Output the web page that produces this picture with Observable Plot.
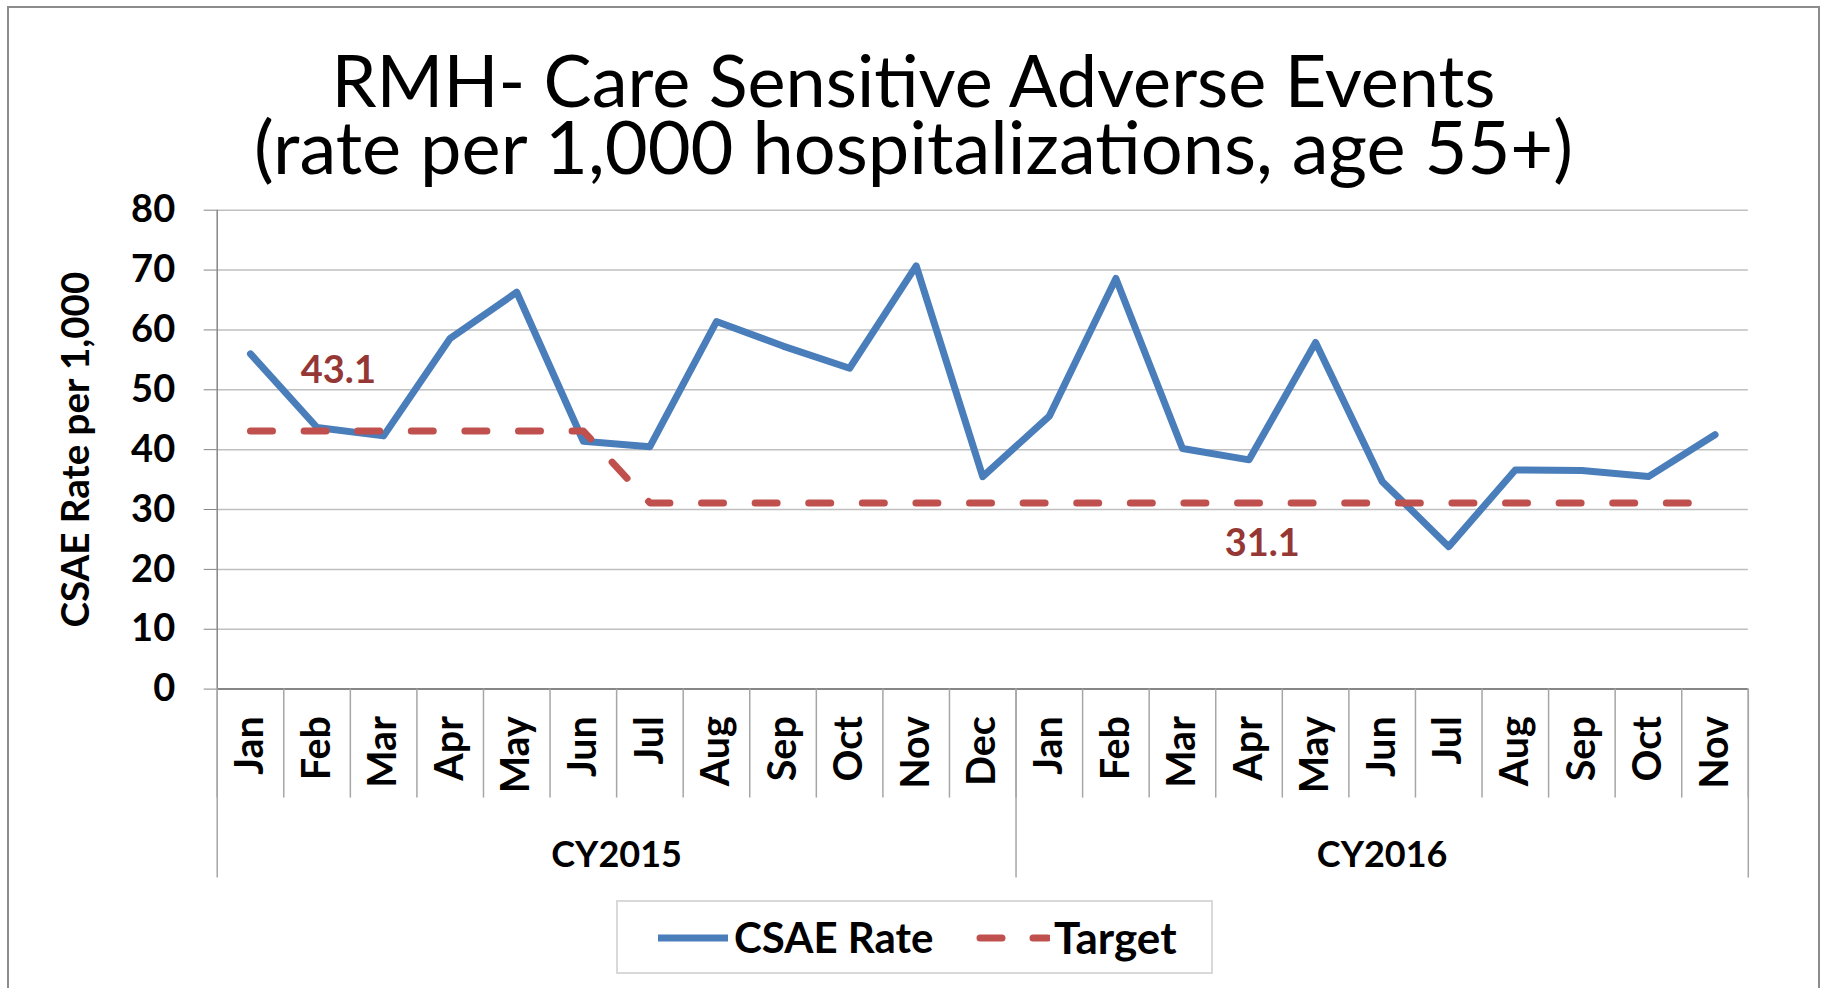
<!DOCTYPE html>
<html><head><meta charset="utf-8">
<script src="https://cdn.jsdelivr.net/npm/d3@7"></script>
<script src="https://cdn.jsdelivr.net/npm/@observablehq/plot@0.6"></script>
<style>
html,body{margin:0;padding:0;background:#fff;overflow:hidden;}
#wrap{position:relative;width:1827px;height:988px;overflow:hidden;font-family:Lato,sans-serif;background:#fff;}
#frame{position:absolute;left:7px;top:6px;width:1813px;height:1100px;border:2px solid #8c8c8c;box-sizing:border-box;}
#chart{position:absolute;left:0;top:0;}
#chart svg{font-family:Lato,sans-serif;font-weight:700;}
.tl{position:absolute;left:0;width:1827px;text-align:center;line-height:62px;height:62px;color:#000;font-weight:400;white-space:nowrap;z-index:2;}
#legend{position:absolute;left:616px;top:900px;width:597px;height:74px;border:2px solid #d9d9d9;box-sizing:border-box;}
.lg{position:absolute;top:0;height:70px;line-height:70px;font-weight:700;font-size:42px;color:#000;white-space:nowrap;}
.sw{position:absolute;top:31px;}
</style></head>
<body>
<div id="wrap">
  <div id="frame"></div>
  <div id="chart"></div>
  <div class="tl" id="t1" style="top:47.5px;font-size:72px;"></div>
  <div class="tl" id="t2" style="top:115.4px;font-size:74px;"></div>
  <div id="legend"></div>
</div>
<script>
// ---- data ----
const titleLines = ["RMH- Care Sensitive Adverse Events", "(rate per 1,000 hospitalizations, age 55+)"];
const years = ["CY2015", "CY2016"];
const months2015 = ["Jan","Feb","Mar","Apr","May","Jun","Jul","Aug","Sep","Oct","Nov","Dec"];
const months2016 = ["Jan","Feb","Mar","Apr","May","Jun","Jul","Aug","Sep","Oct","Nov"];
const csae2015 = [56.0, 43.7, 42.3, 58.6, 66.3, 41.4, 40.5, 61.4, 57.3, 53.6, 70.7, 35.5];
const csae2016 = [45.6, 68.6, 40.2, 38.3, 57.9, 34.7, 23.8, 36.6, 36.5, 35.5, 42.5];
const target2015 = [43.1, 43.1, 43.1, 43.1, 43.1, 43.1, 31.1, 31.1, 31.1, 31.1, 31.1, 31.1];
const target2016 = [31.1, 31.1, 31.1, 31.1, 31.1, 31.1, 31.1, 31.1, 31.1, 31.1, 31.1];
const targetLabelText = ["43.1", "31.1"];
const targetLabelX = [1.82, 15.7];   // position along the month axis (category units)
const targetLabelY = [53.1, 24.3];   // value units
const yTicks = [0, 10, 20, 30, 40, 50, 60, 70, 80];
const yTitle = "CSAE Rate per 1,000";
const seriesNames = ["CSAE Rate", "Target"];

document.getElementById("t1").textContent = titleLines[0];
document.getElementById("t2").textContent = titleLines[1];

// ---- table ----
const months = [...months2015, ...months2016];
const csae = [...csae2015, ...csae2016];
const target = [...target2015, ...target2016];
const rows = months.map((m, i) => ({pos: i + 0.5, month: m, csae: csae[i], target: target[i]}));
const yearStarts = [0, months2015.length, months.length];
const yearCenters = [months2015.length / 2, months2015.length + months2016.length / 2];
const labels = targetLabelText.map((t, i) => ({t, x: targetLabelX[i], y: targetLabelY[i]}));

const blue = "#4a7ebb", red = "#c0504d", gray = "#a6a6a6";

const plot = Plot.plot({
  width: 1827,
  height: 900,
  marginLeft: 216.7,
  marginRight: 79.2,
  marginTop: 209.7,
  marginBottom: 211.4,
  x: {type: "linear", domain: [0, months.length]},
  y: {domain: [0, 80]},
  style: {background: "transparent", color: "#000"},
  marks: [
    Plot.gridY(yTicks, {stroke: "#bfbfbf", strokeOpacity: 1, strokeWidth: 1.5}),
    Plot.ruleX([0], {stroke: "#868686", strokeWidth: 1.5}),
    Plot.ruleY([0], {stroke: "#868686", strokeWidth: 2}),
    Plot.axisY({ticks: yTicks, tickSize: 13, tickPadding: 29, fontSize: 38, stroke: "#868686", label: null}),
    // month separators
    Plot.axisX({ticks: d3.range(0, months.length + 1), tickSize: 109, tickFormat: () => "", stroke: gray, strokeWidth: 1.5, label: null}),
    // year separators
    Plot.axisX({ticks: yearStarts, tickSize: 189, tickFormat: () => "", stroke: gray, strokeWidth: 1.5, label: null}),
    // month labels
    Plot.axisX({ticks: rows.map(d => d.pos), tickFormat: v => months[Math.floor(v)], tickSize: 0, tickPadding: 27, tickRotate: -90, fontSize: 39.5, label: null}),
    // year labels
    Plot.axisX({ticks: yearCenters, tickFormat: (v, i) => years[i], tickSize: 0, tickPadding: 152, fontSize: 36, label: null}),
    Plot.text([yTitle], {frameAnchor: "left", textAnchor: "middle", dx: -141, rotate: -90, fontSize: 38.5, fill: "#000"}),
    Plot.line(rows, {x: "pos", y: "csae", stroke: blue, strokeWidth: 7, strokeLinejoin: "round", strokeLinecap: "round"}),
    Plot.line(rows, {x: "pos", y: "target", stroke: red, strokeWidth: 7, strokeDasharray: "22,31.6", strokeLinecap: "round"}),
    Plot.text(labels, {x: "x", y: "y", text: "t", fill: "#953735", fontSize: 38})
  ]
});
document.getElementById("chart").appendChild(plot);

// ---- legend ----
const lg = document.getElementById("legend");
lg.innerHTML = `
  <svg class="sw" style="left:38px" width="74" height="10"><line x1="2" x2="72" y1="5" y2="5" stroke="${blue}" stroke-width="7"/></svg>
  <div class="lg" style="left:116px">${seriesNames[0]}</div>
  <svg class="sw" style="left:358px" width="74" height="10"><line x1="4" x2="72" y1="5" y2="5" stroke="${red}" stroke-width="7" stroke-linecap="round" stroke-dasharray="22,31"/></svg>
  <div class="lg" style="left:436px;font-size:44px">${seriesNames[1]}</div>`;
</script>
</body></html>
